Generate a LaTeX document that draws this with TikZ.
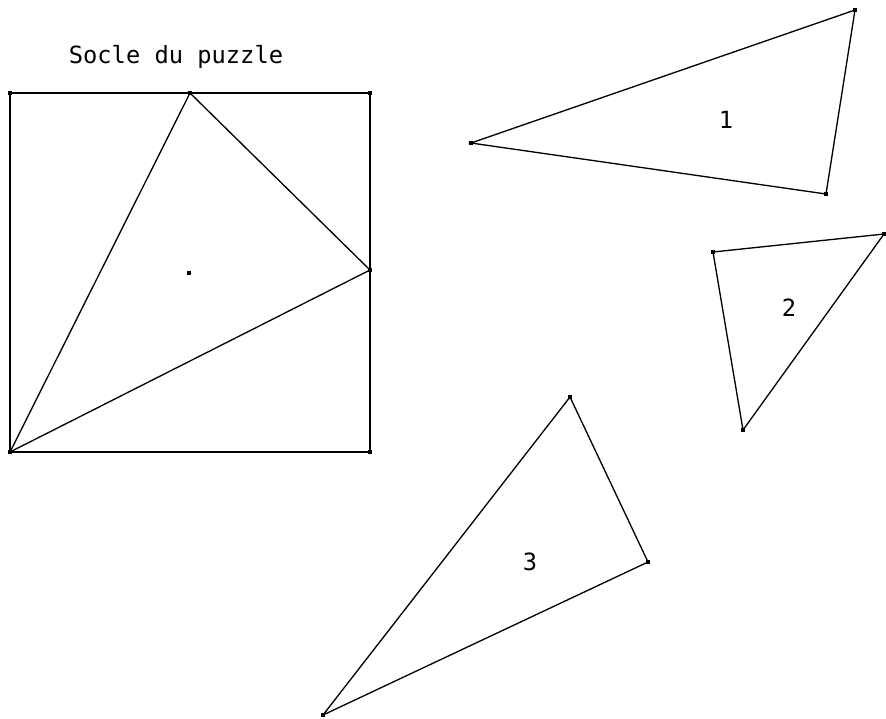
\documentclass[tikz,border=0pt]{standalone}
\usepackage{fontspec}
\setmainfont{DejaVu Sans Mono}
\usetikzlibrary{positioning}
\tikzset{
  piece/.style={line width=0.75pt, line join=miter},
  vdot/.style={fill=black},
  lbl/.style={font=\fontsize{13.5}{15}\selectfont, inner sep=0pt}
}
\newcommand{\vtx}[1]{\fill[vdot] (#1) +(-2,-2) rectangle +(2,2);}

\begin{document}
\begin{tikzpicture}[x=0.02cm, y=-0.02cm]
  \useasboundingbox (0,0) rectangle (886,718);

  %--- Socle ---
  \node[lbl] (titre) at (176,57) {Socle du puzzle};
  \coordinate (A) at (10,93);
  \coordinate (B) at (370,93);
  \coordinate (C) at (370,452);
  \coordinate (D) at (10,452);
  \coordinate (M) at (190,93);
  \coordinate (N) at (370,270);
  \coordinate (O) at (189,273);
  \draw[piece] (A) -- (B) -- (C) -- (D) -- cycle;
  \draw[piece] (D) -- (M) -- (N) -- cycle;
  \foreach \p in {A,B,C,D,M,N,O} {\vtx{\p}}

  %--- Piece 1 ---
  \coordinate (P1a) at (471,143);
  \coordinate (P1b) at (855,10);
  \coordinate (P1c) at (826,194);
  \draw[piece] (P1a) -- (P1b) -- (P1c) -- cycle;
  \foreach \p in {P1a,P1b,P1c} {\vtx{\p}}
  \node[lbl] (un) at (726,120) {1};

  %--- Piece 2 ---
  \coordinate (P2a) at (713,252);
  \coordinate (P2b) at (884,234);
  \coordinate (P2c) at (743,430);
  \draw[piece] (P2a) -- (P2b) -- (P2c) -- cycle;
  \foreach \p in {P2a,P2b,P2c} {\vtx{\p}}
  \node[lbl] (deux) at (789,308) {2};

  %--- Piece 3 ---
  \coordinate (P3a) at (570,397);
  \coordinate (P3b) at (648,562);
  \coordinate (P3c) at (323,715);
  \draw[piece] (P3a) -- (P3b) -- (P3c) -- cycle;
  \foreach \p in {P3a,P3b,P3c} {\vtx{\p}}
  \node[lbl] (trois) at (530,562) {3};
\end{tikzpicture}
\end{document}
